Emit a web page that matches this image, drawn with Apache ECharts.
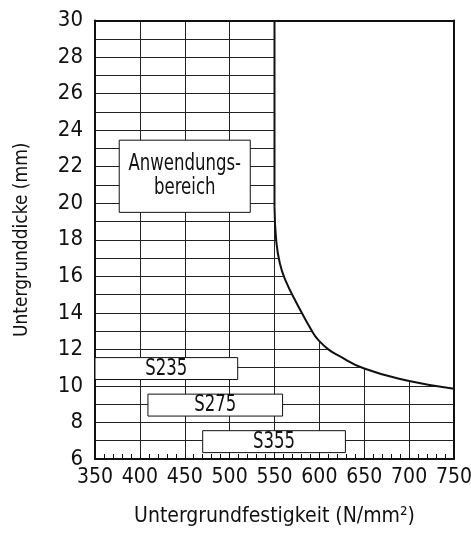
<!DOCTYPE html>
<html>
<head>
<meta charset="utf-8">
<script src="https://cdn.jsdelivr.net/npm/echarts@6/dist/echarts.min.js"></script>
<style>
html,body{margin:0;padding:0;background:#fff;}
#chart{width:471px;height:535px;}
</style>
</head>
<body>
<div id="chart"></div>
<script>
// Boundary of the application range (strength N/mm², thickness mm)
const wallStrength  = [550, 550];
const wallThickness = [30, 19.8];
const curveStrength  = [550, 552, 556, 562, 575, 593, 600, 610, 620, 650, 700, 750];
const curveThickness = [19.8, 17.9, 16.7, 15.8, 14.5, 12.9, 12.45, 12.0, 11.7, 10.95, 10.27, 9.85];

// Labelled boxes
const boxLabels = ['Anwendungs-\nbereich', 'S235', 'S275', 'S355'];
const boxX0 = [377, 350, 409, 470];
const boxX1 = [523, 509, 559, 629];
const boxY0 = [19.5, 10.35, 8.35, 6.35];
const boxY1 = [23.45, 11.55, 9.55, 7.55];

const xTitle = 'Untergrundfestigkeit (N/mm²)';
const yTitle = 'Untergrunddicke (mm)';

const FONT = "'Liberation Sans Narrow', 'DejaVu Sans Condensed', 'Arial Narrow', sans-serif";
const INK = '#111';

const wallData = wallStrength.map((x, i) => [x, wallThickness[i]]);
const curveData = curveStrength.map((x, i) => [x, curveThickness[i]]);
const boxData = boxLabels.map((l, i) => [boxX0[i], boxX1[i], boxY0[i], boxY1[i]]);

const chart = echarts.init(document.getElementById('chart'), null, {renderer: 'canvas'});
chart.setOption({
  animation: false,
  backgroundColor: '#fff',
  grid: {left: 95, top: 20.5, right: 17, bottom: 76, containLabel: false, outerBoundsMode: 'none'},
  xAxis: [{
    type: 'value', min: 350, max: 750, interval: 50, position: 'bottom',
    name: xTitle, nameLocation: 'middle', nameGap: 47,
    nameTextStyle: {fontFamily: FONT, fontSize: 21, color: INK},
    axisLine: {show: true, lineStyle: {color: INK, width: 2}},
    axisTick: {show: true, inside: true, length: 5, lineStyle: {color: INK, width: 1}},
    minorTick: {show: true, splitNumber: 5, length: 5, lineStyle: {color: INK, width: 1}},
    splitLine: {show: true, lineStyle: {color: '#222', width: 1}},
    axisLabel: {fontFamily: FONT, fontSize: 21, color: INK, margin: 8}
  }, {
    type: 'value', min: 350, max: 750, interval: 50, position: 'top', z: 10,
    axisLine: {show: true, lineStyle: {color: INK, width: 2}},
    axisTick: {show: false}, axisLabel: {show: false}, splitLine: {show: false}
  }],
  yAxis: [{
    type: 'value', min: 6, max: 30, interval: 1, position: 'left',
    name: yTitle, nameLocation: 'middle', nameGap: 63, nameRotate: 90,
    nameTextStyle: {fontFamily: FONT, fontSize: 19, color: INK},
    axisLine: {show: true, lineStyle: {color: INK, width: 2}},
    axisTick: {show: false},
    splitLine: {show: true, lineStyle: {color: '#222', width: 1}},
    axisLabel: {
      fontFamily: FONT, fontSize: 22, color: INK, margin: 12,
      formatter: v => (v % 2 === 0 ? String(v) : '')
    }
  }, {
    type: 'value', min: 6, max: 30, interval: 1, position: 'right', z: 10,
    axisLine: {show: true, lineStyle: {color: INK, width: 2}},
    axisTick: {show: false}, axisLabel: {show: false}, splitLine: {show: false}
  }],
  series: [{
    type: 'line',
    xAxisIndex: 0, yAxisIndex: 0,
    data: curveData,
    showSymbol: false,
    smooth: 0.5,
    z: 2,
    lineStyle: {color: INK, width: 2},
    areaStyle: {color: '#fff', opacity: 1, origin: 'end'}
  }, {
    type: 'line',
    xAxisIndex: 0, yAxisIndex: 0,
    data: wallData,
    showSymbol: false,
    z: 2.5,
    lineStyle: {color: INK, width: 2}
  }, {
    type: 'custom',
    xAxisIndex: 0, yAxisIndex: 0,
    z: 3,
    data: boxData,
    renderItem: function (params, api) {
      const p0 = api.coord([api.value(0), api.value(3)]);
      const p1 = api.coord([api.value(1), api.value(2)]);
      return {
        type: 'group',
        children: [{
          type: 'rect',
          shape: {x: p0[0], y: p0[1], width: p1[0] - p0[0], height: p1[1] - p0[1]},
          style: {fill: '#fff', stroke: INK, lineWidth: 1}
        }, {
          type: 'text',
          x: (p0[0] + p1[0]) / 2,
          y: (p0[1] + p1[1]) / 2,
          scaleX: 0.8,
          style: {
            text: boxLabels[params.dataIndex],
            x: 0, y: 0,
            align: 'center', verticalAlign: 'middle',
            fontFamily: FONT, fontSize: 23, lineHeight: 24,
            fill: INK
          }
        }]
      };
    }
  }]
});
</script>
</body>
</html>
